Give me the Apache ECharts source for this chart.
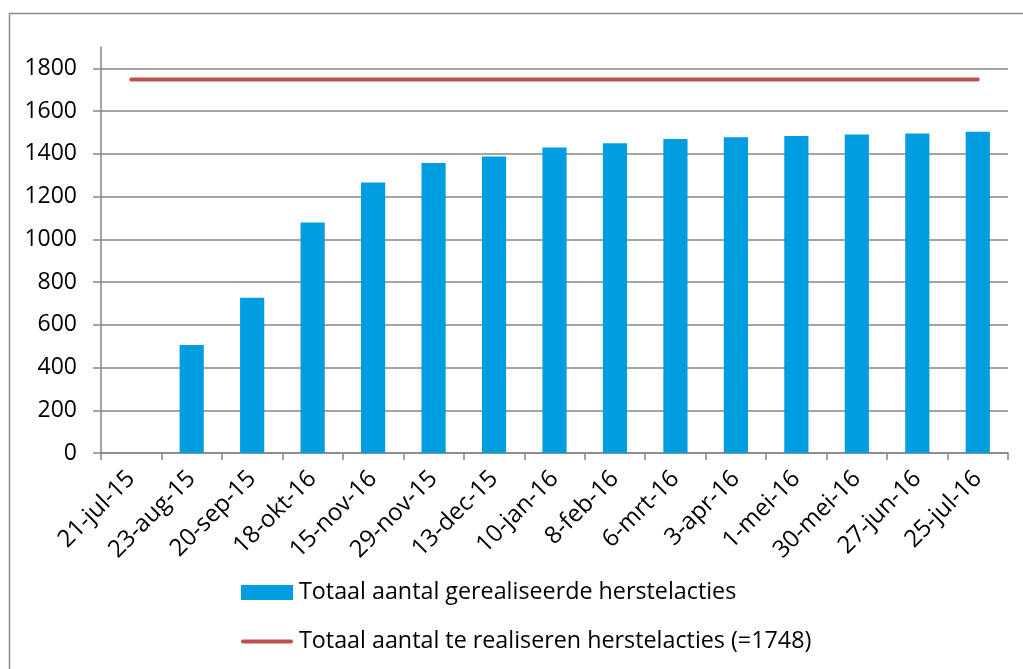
<!DOCTYPE html>
<html>
<head>
<meta charset="utf-8">
<script src="https://cdn.jsdelivr.net/npm/echarts@6/dist/echarts.min.js"></script>
<style>
html,body{margin:0;padding:0;background:#fff;}
#chart{width:1023px;height:669px;}
</style>
</head>
<body>
<div id="chart"></div>
<script>
const categories = ['21-jul-15','23-aug-15','20-sep-15','18-okt-16','15-nov-16','29-nov-15','13-dec-15','10-jan-16','8-feb-16','6-mrt-16','3-apr-16','1-mei-16','30-mei-16','27-jun-16','25-jul-16'];
const realised = [0, 505, 726, 1079, 1266, 1357, 1388, 1430, 1449, 1470, 1478, 1484, 1491, 1495, 1503];
const target = [1748,1748,1748,1748,1748,1748,1748,1748,1748,1748,1748,1748,1748,1748,1748];
const yTicks = [0,200,400,600,800,1000,1200,1400,1600,1800];
const seriesNames = ['Totaal aantal gerealiseerde herstelacties','Totaal aantal te realiseren herstelacties (=1748)'];

const font = 'Open Sans';
const chart = echarts.init(document.getElementById('chart'), null, {renderer:'canvas'});
chart.setOption({
  animation:false,
  backgroundColor:'#fff',
  graphic:[{type:'rect', shape:{x:9.5,y:13.5,width:1200,height:1000}, style:{fill:'none', stroke:'#8c8c8c', lineWidth:1.5}, silent:true, z:-1}],
  grid:{left:101,right:15,top:47,bottom:216,containLabel:false},
  legend:{
    orient:'vertical', left:236, top:576, itemWidth:52, itemHeight:15, itemGap:26,
    textStyle:{fontFamily:font,fontSize:23.3,color:'#000',padding:[0,0,0,1]},
    data:[
      {name:seriesNames[0], icon:'rect'},
      {name:seriesNames[1], icon:'path://M2,0 L52,0 A2,2 0 0 1 52,4 L2,4 A2,2 0 0 1 2,0 Z', itemStyle:{color:'#C0504D'}}
    ]
  },
  xAxis:{
    type:'category', data:categories, boundaryGap:true,
    axisLine:{lineStyle:{color:'#868686',width:1.5}},
    axisTick:{show:true,length:7,lineStyle:{color:'#868686',width:1.5}},
    axisLabel:{rotate:45, interval:0, fontFamily:font, fontSize:24, color:'#000', margin:22}
  },
  yAxis:{
    type:'value', min:0, max:1900, interval:200,
    axisLine:{show:true,lineStyle:{color:'#868686',width:1.5}},
    axisTick:{show:true,length:8,customValues:yTicks,lineStyle:{color:'#868686',width:1.5}},
    axisLabel:{fontFamily:font,fontSize:23,color:'#000',margin:24,customValues:yTicks,formatter:function(v){return String(v);}},
    splitLine:{show:true,lineStyle:{color:'#868686',width:1.5}}
  },
  series:[
    {name:seriesNames[0], type:'bar', data:realised, barWidth:'40%', itemStyle:{color:'#009EE0'}},
    {name:seriesNames[1], type:'line', data:target, symbol:'none', showSymbol:false, lineStyle:{color:'#C0504D',width:4,cap:'round'}, itemStyle:{color:'#C0504D'}}
  ]
});
</script>
</body>
</html>
